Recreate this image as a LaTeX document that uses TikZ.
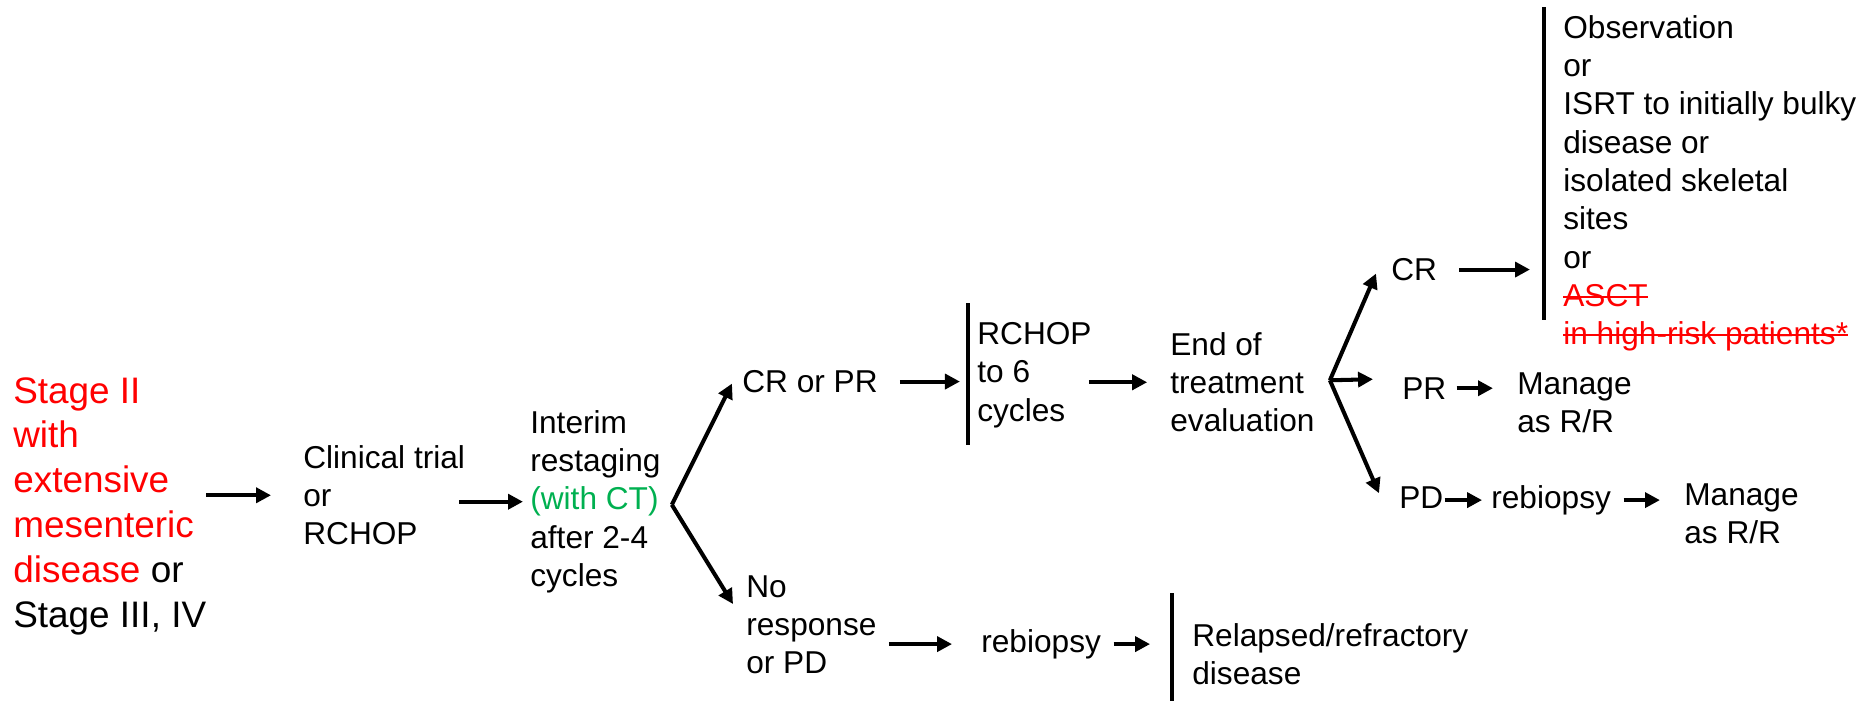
\documentclass[tikz,border=0pt]{standalone}
\usepackage{fontspec}
\setmainfont{Liberation Sans}
\usetikzlibrary{arrows.meta}
\definecolor{pptred}{RGB}{255,0,0}
\definecolor{pptgreen}{RGB}{0,176,80}
\newcommand{\rd}[1]{{\color{pptred}#1}}
\newsavebox\strkbox
\newcommand{\strk}[1]{\sbox\strkbox{#1}\rlap{\usebox\strkbox}\rule[0.27em]{\wd\strkbox}{1.1pt}}
\tikzset{
  txt/.style={align=left, anchor=north west, inner sep=0pt, font=\fontsize{18}{21.8}\selectfont},
  bigtxt/.style={txt, font=\fontsize{21}{25.5}\selectfont},
  arr/.style={line width=2.3pt, -{Triangle[length=8.5pt,width=8.5pt]}},
  bar/.style={line width=2.3pt}
}
\begin{document}
\begin{tikzpicture}[x=0.02cm, y=-0.02cm]
  \useasboundingbox (0,0) rectangle (1862,701);

  \node[bigtxt] (stage) at (13,377) {\rd{Stage II}\\\rd{with}\\\rd{extensive}\\\rd{mesenteric}\\\rd{disease} or\\Stage III, IV};
  \node[txt] (clin) at (303,445) {Clinical trial\\or\\RCHOP};
  \node[txt] (interim) at (530,410) {Interim\\restaging\\{\color{pptgreen}(with CT)}\\after 2-4\\cycles};
  \node[txt] (crpr) at (742,370) {CR or PR};
  \node[txt] (nr) at (746,575) {No\\response\\or PD};
  \node[txt] (rchop) at (977,322) {RCHOP\\to 6\\cycles};
  \node[txt] (eot) at (1170,332) {End of\\treatment\\evaluation};
  \node[txt] (cr) at (1391,258) {CR};
  \node[txt] (obs) at (1563,15) {Observation\\or\\ISRT to initially bulky\\disease or\\isolated skeletal\\sites\\or\\\rd{\strk{ASCT}}\\\rd{\strk{in high-risk patients*}}};
  \node[txt] (pr) at (1402,377) {PR};
  \node[txt] (man1) at (1517,372) {Manage\\as R/R};
  \node[txt] (pd) at (1399,486) {PD};
  \node[txt] (rb1) at (1491,485) {rebiopsy};
  \node[txt] (man2) at (1684,483) {Manage\\as R/R};
  \node[txt] (rb2) at (981,629) {rebiopsy};
  \node[txt] (rel) at (1192,623) {Relapsed/refractory\\disease};

  \coordinate (v1) at ([shift={(11,3)}]interim.east);
  \coordinate (v2) at ([shift={(15,-2)}]eot.east);
  \coordinate (bar1t) at ([shift={(-9,-19)}]rchop.north west);
  \coordinate (bar1b) at ([shift={(-9,123)}]rchop.north west);
  \coordinate (bar2t) at ([shift={(-19,-8)}]obs.north west);
  \coordinate (bar2b) at ([shift={(-19,305)}]obs.north west);
  \coordinate (bar3t) at ([shift={(-20,-30)}]rel.north west);
  \coordinate (bar3b) at ([shift={(-20,78)}]rel.north west);

  \draw[bar] (bar1t) -- (bar1b);
  \draw[bar] (bar2t) -- (bar2b);
  \draw[bar] (bar3t) -- (bar3b);

  \draw[arr, shorten >=18.2pt] (stage.east |- clin.west) -- (clin.west);
  \draw[arr, shorten <=-3.4pt, shorten >=4pt] (clin.east |- interim.west) -- (interim.west);
  \draw[arr] (v1) -- ([shift={(-10,2)}]crpr.west);
  \draw[arr] (v1) -- ([shift={(-13,29)}]nr.north west);
  \draw[arr, shorten <=12.5pt, shorten >=4.6pt] (crpr.east) -- (crpr.east -| bar1t);
  \draw[arr, shorten <=-1.7pt, shorten >=13pt] (rchop.east |- eot.west) -- (eot.west);
  \draw[arr] (v2) -- ([shift={(-15,4)}]cr.west);
  \draw[arr] (v2) -- ([shift={(-29,-9)}]pr.west);
  \draw[arr] (v2) -- ([shift={(-20,-4)}]pd.west);
  \draw[arr, shorten <=12.5pt, shorten >=8pt] (cr.east) -- (cr.east -| bar2t);
  \draw[arr, shorten <=5.7pt, shorten >=13.7pt] (pr.east) -- (pr.east -| man1.west);
  \draw[arr, shorten <=0.6pt, shorten >=5.1pt] (pd.east |- rb1.west) -- (rb1.west);
  \draw[arr, shorten <=7.1pt, shorten >=13.7pt] (rb1.east) -- (rb1.east -| man2.west);
  \draw[arr, shorten <=6.8pt, shorten >=16.5pt] (nr.east |- rb2.west) -- (rb2.west);
  \draw[arr, shorten <=7.1pt, shorten >=12.5pt] (rb2.east) -- (rb2.east -| bar3t);
\end{tikzpicture}
\end{document}
